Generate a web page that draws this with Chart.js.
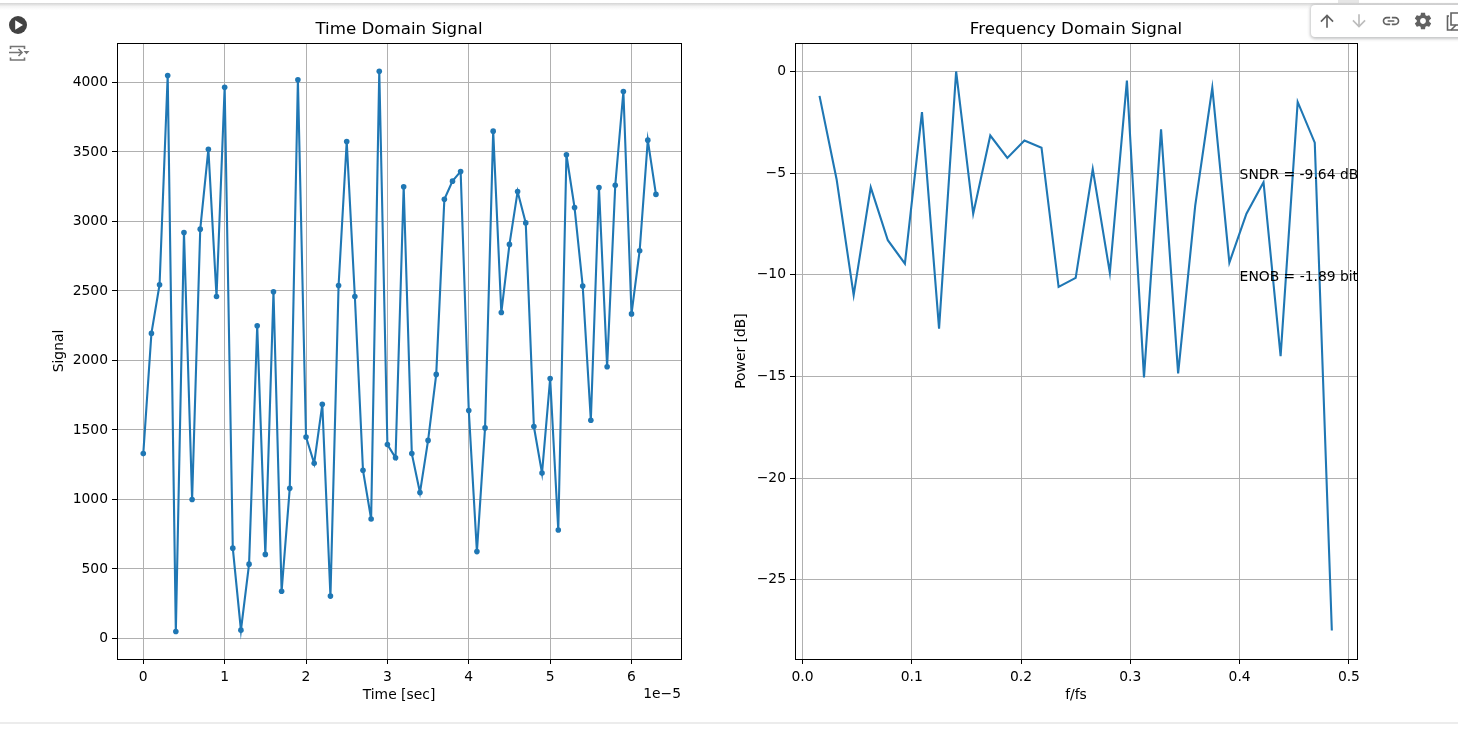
<!DOCTYPE html>
<html>
<head>
<meta charset="utf-8">
<script src="https://cdn.jsdelivr.net/npm/chart.js@4"></script>
<style>
html,body{margin:0;padding:0;background:#fff;width:1458px;height:736px;overflow:hidden;font-family:"DejaVu Sans",sans-serif}
canvas{position:absolute;display:block}
#top{position:absolute;left:0;top:3px;width:1458px;height:7px;background:linear-gradient(#d4d4d4,#f4f4f4 50%,#fff)}
#bottom{position:absolute;left:0;top:722px;width:1458px;height:2px;background:#ececec}
#tab{position:absolute;left:1338px;top:0;width:21px;height:3px;background:#e6e6e6}
#toolbar{position:absolute;left:1311px;top:5px;width:160px;height:32px;background:#fff;border-radius:4px;box-shadow:0 1px 3px 1px rgba(60,64,67,.3)}
.ic{position:absolute}
</style>
</head>
<body>
<div id="top"></div><div id="tab"></div><div id="bottom"></div>
<svg class="ic" style="left:8px;top:15px" width="20" height="20" viewBox="0 0 20 20"><circle cx="10" cy="10" r="9" fill="#424242"/><path d="M7.2 5.2 15 10 7.2 14.8z" fill="#fff"/></svg>
<svg class="ic" style="left:8px;top:43px" width="22" height="20" viewBox="0 0 22 20" fill="none" stroke="#757575" stroke-width="1.6"><path d="M2.5 6V3.5h14V6M2.5 14.5V17h14v-2.5M1 9.5h13M10.5 6l3.5 3.5-3.5 3.5"/><path d="M15.5 8h6l-3 3.2z" fill="#757575" stroke="none"/></svg>
<div id="toolbar"></div>
<svg class="ic" style="left:1317px;top:11px" width="20" height="20" viewBox="0 0 24 24"><path fill="#616161" d="M4 12l1.41 1.41L11 7.83V20h2V7.83l5.58 5.59L20 12l-8-8-8 8z"/></svg>
<svg class="ic" style="left:1349px;top:11px" width="20" height="20" viewBox="0 0 24 24"><path fill="#bdbdbd" d="M20 12l-1.41-1.41L13 16.17V4h-2v12.17l-5.58-5.59L4 12l8 8 8-8z"/></svg>
<svg class="ic" style="left:1381px;top:11px" width="20" height="20" viewBox="0 0 24 24"><path fill="#616161" d="M3.9 12c0-1.71 1.39-3.1 3.1-3.1h4V7H7c-2.76 0-5 2.24-5 5s2.24 5 5 5h4v-1.9H7c-1.71 0-3.1-1.39-3.1-3.1zM8 13h8v-2H8v2zm9-6h-4v1.9h4c1.71 0 3.1 1.39 3.1 3.1s-1.39 3.1-3.1 3.1h-4V17h4c2.76 0 5-2.24 5-5s-2.24-5-5-5z"/></svg>
<svg class="ic" style="left:1413px;top:11px" width="20" height="20" viewBox="0 0 24 24"><path fill="#616161" d="M19.43 12.98c.04-.32.07-.64.07-.98s-.03-.66-.07-.98l2.11-1.65c.19-.15.24-.42.12-.64l-2-3.46c-.12-.22-.39-.3-.61-.22l-2.49 1c-.52-.4-1.08-.73-1.69-.98l-.38-2.65C14.46 2.18 14.25 2 14 2h-4c-.25 0-.46.18-.49.42l-.38 2.65c-.61.25-1.17.59-1.69.98l-2.49-1c-.23-.09-.49 0-.61.22l-2 3.46c-.13.22-.07.49.12.64l2.11 1.65c-.04.32-.07.65-.07.98s.03.66.07.98l-2.11 1.65c-.19.15-.24.42-.12.64l2 3.46c.12.22.39.3.61.22l2.49-1c.52.4 1.08.73 1.69.98l.38 2.65c.03.24.24.42.49.42h4c.25 0 .46-.18.49-.42l.38-2.65c.61-.25 1.17-.59 1.69-.98l2.49 1c.23.09.49 0 .61-.22l2-3.46c.12-.22.07-.49-.12-.64l-2.11-1.65zM12 15.5c-1.93 0-3.5-1.57-3.5-3.5s1.57-3.5 3.5-3.5 3.5 1.57 3.5 3.5-1.57 3.5-3.5 3.5z"/></svg>
<svg class="ic" style="left:1446px;top:12px" width="18" height="20" viewBox="0 0 18 20" fill="none" stroke="#616161" stroke-width="1.6"><path d="M3 4H1.5v14H15v-2M5 1h10v12H5z"/><path d="M5 18l5-5"/></svg>
<canvas id="c1" width="660" height="710" style="left:40px;top:10px"></canvas>
<canvas id="c2" width="660" height="710" style="left:718px;top:10px"></canvas>
<script>
const timeX = [0,1,2,3,4,5,6,7,8,9,10,11,12,13,14,15,16,17,18,19,20,21,22,23,24,25,26,27,28,29,30,31,32,33,34,35,36,37,38,39,40,41,42,43,44,45,46,47,48,49,50,51,52,53,54,55,56,57,58,59,60,61,62,63];
const signal = [1330,2195,2545,4050,50,2920,1000,2945,3520,2460,3965,650,60,535,2250,605,2495,340,1080,4020,1450,1260,1685,305,2540,3575,2460,1210,860,4080,1395,1300,3250,1330,1050,1425,1900,3160,3290,3360,1640,625,1515,3650,2345,2835,3215,2990,1525,1190,1870,780,3480,3100,2535,1570,3245,1955,3260,3935,2335,2790,3585,3195];
const freqBins = [1,2,3,4,5,6,7,8,9,10,11,12,13,14,15,16,17,18,19,20,21,22,23,24,25,26,27,28,29,30,31];
const power = [-1.2,-5.3,-11,-5.7,-8.3,-9.45,-2,-12.65,0,-7,-3.15,-4.25,-3.4,-3.75,-10.6,-10.15,-4.8,-9.9,-0.45,-15.05,-2.85,-14.85,-6.6,-0.8,-9.4,-7,-5.45,-14,-1.5,-3.5,-27.5];
const timeTicks = [0,1,2,3,4,5,6];
const signalTicks = [0,500,1000,1500,2000,2500,3000,3500,4000];
const freqTicks = [0,0.1,0.2,0.3,0.4,0.5];
const powerTicks = [0,-5,-10,-15,-20,-25];
const labels = [{x:0.4,y:-5,text:'SNDR = -9.64 dB'},{x:0.4,y:-10,text:'ENOB = -1.89 bits'}];

const FONT = '"DejaVu Sans"';
const tickFont = {family:FONT,size:13.89};
const BLUE = '#1f77b4';

function fixedTicks(vals){ return s => { s.ticks = vals.map(v=>({value:v})); }; }
const frame = {id:'frame',afterDraw(c){
  const a=c.chartArea,x=c.ctx; x.save(); x.strokeStyle='#000'; x.lineWidth=1;
  x.strokeRect(Math.round(a.left)+.5,Math.round(a.top)+.5,Math.round(a.width),Math.round(a.height)); x.restore();
}};
function axis(over){
  return Object.assign({type:'linear',
    grid:{color:'#b0b0b0',lineWidth:1,tickColor:'#000',tickLength:5,tickWidth:1},
    border:{display:false}
  },over);
}
function yTicksOpt(cb){return {font:tickFont,color:'#000',padding:4,autoSkip:false,maxRotation:0,callback:cb};}
function common(title,padLeft,extra){
  return {responsive:false,animation:false,devicePixelRatio:1,
    layout:{padding:{top:10,left:padLeft,right:padLeft===11?19:21,bottom:16}},
    events:[],
    plugins:{legend:{display:false},tooltip:{enabled:false},
      title:{display:true,text:title,fullSize:false,color:'#000',font:{family:FONT,size:16.67,weight:'normal'},padding:{top:0,bottom:3}}},
    ...extra};
}

new Chart(document.getElementById('c1'),{
  type:'line',
  data:{datasets:[{data:timeX.map((v,i)=>({x:v*1e-6,y:signal[i]})),borderColor:BLUE,backgroundColor:BLUE,borderWidth:2.1,pointRadius:2.8,pointBorderWidth:0,tension:0}]},
  options:common('Time Domain Signal',11,{
    scales:{
      x:axis({min:-0.323e-5,max:6.608e-5,afterBuildTicks:fixedTicks(timeTicks.map(v=>v*1e-5)),
        afterFit(s){s.height=45;},
        ticks:{font:tickFont,color:'#000',padding:5,autoSkip:false,maxRotation:0,callback:v=>String(Math.round(v*1e5))},
        title:{display:true,text:'Time [sec]',color:'#000',font:{family:FONT,size:13.89},padding:{top:5,bottom:0}}}),
      y:axis({min:-147.5,max:4284,afterBuildTicks:fixedTicks(signalTicks),
        afterFit(s){s.width=66;},
        ticks:yTicksOpt(v=>String(v)),
        title:{display:true,text:'Signal',color:'#000',font:{family:FONT,size:13.89},padding:{top:0,bottom:6}}})
    }}),
  plugins:[frame,{id:'offset',afterDraw(c){
    const x=c.ctx;x.save();x.font='13.89px '+FONT;x.fillStyle='#000';x.textAlign='right';x.textBaseline='middle';
    x.fillText('1e\u22125',c.chartArea.right,c.chartArea.bottom+35);x.restore();
  }}]
});

new Chart(document.getElementById('c2'),{
  type:'line',
  data:{datasets:[{data:freqBins.map((k,i)=>({x:k/64,y:power[i]})),borderColor:BLUE,borderWidth:2.1,pointRadius:0,tension:0}]},
  options:common('Frequency Domain Signal',15,{
    scales:{
      x:axis({min:-0.0068,max:0.5074,afterBuildTicks:fixedTicks(freqTicks),
        afterFit(s){s.height=45;},
        ticks:{font:tickFont,color:'#000',padding:5,autoSkip:false,maxRotation:0,callback:v=>v.toFixed(1)},
        title:{display:true,text:'f/fs',color:'#000',font:{family:FONT,size:13.89},padding:{top:5,bottom:0}}}),
      y:axis({min:-28.9,max:1.4,afterBuildTicks:fixedTicks(powerTicks),
        afterFit(s){s.width=62;},
        ticks:yTicksOpt(v=>String(v).replace('-','\u2212')),
        title:{display:true,text:'Power [dB]',color:'#000',font:{family:FONT,size:13.89},padding:{top:0,bottom:6}}})
    }}),
  plugins:[frame,{id:'notes',afterDraw(c){
    const x=c.ctx,a=c.chartArea;x.save();x.beginPath();x.rect(0,0,a.right+1,c.height);x.clip();
    x.font='13.89px '+FONT;x.fillStyle='#000';x.textAlign='left';x.textBaseline='middle';
    labels.forEach(l=>x.fillText(l.text,c.scales.x.getPixelForValue(l.x),c.scales.y.getPixelForValue(l.y)+2.5));
    x.restore();
  }}]
});
</script>
</body>
</html>
